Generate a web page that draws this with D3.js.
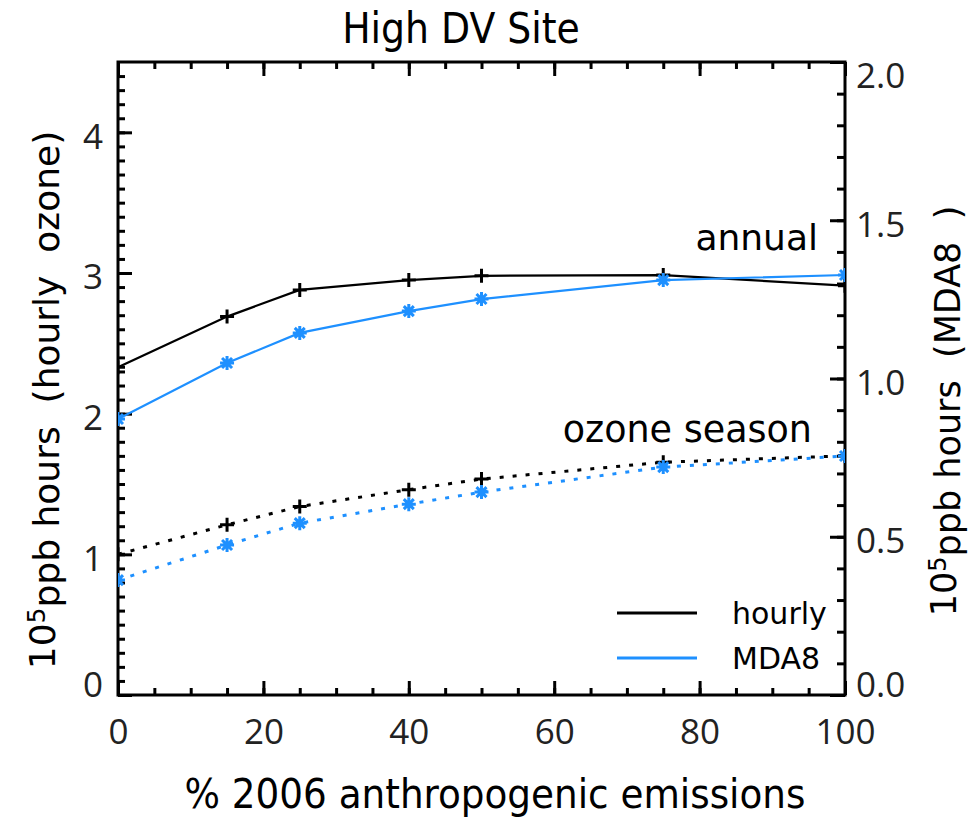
<!DOCTYPE html>
<html>
<head>
<meta charset="utf-8">
<script src="https://cdn.jsdelivr.net/npm/d3@7"></script>
<style>
  body { margin: 0; background: #fff; }
  .axis text { font-family: "Open Sans", sans-serif; font-size: 35px; fill: #222; }
  .axis line { stroke: #000; stroke-width: 3; }
  .axis .domain { display: none; }
  .title, .xlabel { font-family: "Liberation Sans Narrow", "DejaVu Sans Condensed", sans-serif; fill: #000; }
  .ylabel, .note, .legend text { font-family: "DejaVu Sans", Verdana, sans-serif; fill: #000; }
</style>
</head>
<body>
<div id="chart"></div>
<script>
(function (d3) {
    'use strict';

    // Values.
    var emissions = [0, 15, 25, 40, 50, 75, 100];
    var hourlyAnnual = [2.33, 2.69, 2.88, 2.95, 2.98, 2.985, 2.91];
    var mda8Annual = [0.872, 1.049, 1.144, 1.213, 1.251, 1.311, 1.327];
    var hourlySeason = [1.00, 1.21, 1.34, 1.46, 1.535, 1.655, 1.70];
    var mda8Season = [0.363, 0.474, 0.543, 0.603, 0.641, 0.720, 0.755];

    var xTicks = [0, 20, 40, 60, 80, 100];
    var leftTicks = [0, 1, 2, 3, 4];
    var rightTicks = [0, 0.5, 1.0, 1.5, 2.0];
    var legendNames = ['hourly', 'MDA8'];

    var blue = '#1E90FF';

    // Dimensions of the chart.
    var margin = {top: 62, right: 126, bottom: 125, left: 118};
    var width = 971 - margin.left - margin.right;
    var height = 820 - margin.top - margin.bottom;

    var x = d3.scaleLinear().domain([0, 100]).range([0, width]);
    var yLeft = d3.scaleLinear().domain([0, 4.5]).range([height, 0]);
    var yRight = d3.scaleLinear().domain([0, 2.0]).range([height, 0]);

    var svg = d3.select('#chart').append('svg')
        .attr('width', 971)
        .attr('height', 820);

    var vis = svg.append('g')
        .attr('transform', 'translate(' + margin.left + ',' + margin.top + ')');

    svg.append('text')
        .attr('class', 'title')
        .attr('x', 461)
        .attr('y', 43)
        .attr('text-anchor', 'middle')
        .style('font-size', '42px')
        .text('High DV Site');

    // Minor ticks on all four sides.
    vis.append('g').attr('class', 'axis')
        .attr('transform', 'translate(0,' + height + ')')
        .call(d3.axisBottom(x).tickValues(d3.range(0, 101, 5)).tickSize(-7).tickFormat(''));
    vis.append('g').attr('class', 'axis')
        .call(d3.axisTop(x).tickValues(d3.range(0, 101, 5)).tickSize(-7).tickFormat(''));
    vis.append('g').attr('class', 'axis')
        .call(d3.axisLeft(yLeft).tickValues(d3.range(0, 45).map(function(i) { return i / 10; })).tickSize(-7).tickFormat(''));
    vis.append('g').attr('class', 'axis')
        .attr('transform', 'translate(' + width + ',0)')
        .call(d3.axisRight(yRight).tickValues(d3.range(0, 21).map(function(i) { return i / 10; })).tickSize(-8).tickFormat(''));

    // Major ticks with labels.
    vis.append('g').attr('class', 'axis')
        .attr('transform', 'translate(0,' + height + ')')
        .call(d3.axisBottom(x).tickValues(xTicks).tickSize(-14).tickPadding(24).tickFormat(d3.format('d')));
    vis.append('g').attr('class', 'axis')
        .call(d3.axisTop(x).tickValues(xTicks).tickSize(-14).tickFormat(''));

    var gl = vis.append('g').attr('class', 'axis')
        .call(d3.axisLeft(yLeft).tickValues(leftTicks).tickSize(-14).tickPadding(15)
            .tickFormat(d3.format('d')));
    gl.selectAll('text').attr('dy', function(d) { return d === 0 ? '0.05em' : '0.45em'; });

    var gr = vis.append('g').attr('class', 'axis')
        .attr('transform', 'translate(' + width + ',0)')
        .call(d3.axisRight(yRight).tickValues(rightTicks).tickSize(-15).tickPadding(11)
            .tickFormat(d3.format('.1f')));
    gr.selectAll('text').attr('dy', function(d) {
        if (d === 2) { return '0.72em'; }
        if (d === 0) { return '0.05em'; }
        return '0.45em';
    });

    // Frame.
    vis.append('rect')
        .attr('width', width)
        .attr('height', height)
        .attr('fill', 'none')
        .attr('stroke', '#000')
        .attr('stroke-width', 3);

    // Clip the data to the plot area.
    vis.append('clipPath').attr('id', 'plot-clip')
        .append('rect').attr('width', width).attr('height', height);
    var data = vis.append('g').attr('clip-path', 'url(#plot-clip)');

    function pairs(values) {
        return emissions.map(function(e, i) { return {x: e, y: values[i]}; });
    }

    function addSeries(values, scale, colour, dashed, marker) {
        var line = d3.line()
            .x(function(d) { return x(d.x); })
            .y(function(d) { return scale(d.y); });

        data.append('path')
            .datum(pairs(values))
            .attr('d', line)
            .attr('fill', 'none')
            .attr('stroke', colour)
            .attr('stroke-width', dashed ? 3 : 2.2)
            .attr('stroke-dasharray', dashed ? '4,9' : null);

        data.selectAll(null)
            .data(pairs(values))
            .enter().append('path')
            .attr('transform', function(d) { return 'translate(' + x(d.x) + ',' + scale(d.y) + ')'; })
            .attr('d', marker)
            .attr('fill', 'none')
            .attr('stroke', colour)
            .attr('stroke-width', 3);
    }

    var plus = 'M-7,0H7M0,-7V7';
    var star = 'M-7,0H7M0,-7V7M-5,-5L5,5M-5,5L5,-5';

    addSeries(hourlyAnnual, yLeft, '#000', false, plus);
    addSeries(mda8Annual, yRight, blue, false, star);
    addSeries(hourlySeason, yLeft, '#000', true, plus);
    addSeries(mda8Season, yRight, blue, true, star);

    // Annotations.
    vis.append('text').attr('class', 'note')
        .attr('x', 700).attr('y', 188)
        .attr('text-anchor', 'end')
        .style('font-size', '36px')
        .text('annual');
    vis.append('text').attr('class', 'note')
        .attr('x', 694).attr('y', 380)
        .attr('text-anchor', 'end')
        .style('font-size', '36.5px')
        .text('ozone season');

    // Legend.
    var legend = vis.append('g').attr('class', 'legend')
        .attr('transform', 'translate(499,551)');
    legendNames.forEach(function(name, i) {
        legend.append('line')
            .attr('x1', 0).attr('x2', 80)
            .attr('y1', i * 45).attr('y2', i * 45)
            .attr('stroke', i === 0 ? '#000' : blue)
            .attr('stroke-width', 3);
        legend.append('text')
            .attr('x', 115).attr('y', i * 45)
            .attr('dy', '0.35em')
            .style('font-size', '30px')
            .text(name);
    });

    // Axis titles.
    svg.append('text')
        .attr('class', 'xlabel')
        .attr('x', 495)
        .attr('y', 808)
        .attr('text-anchor', 'middle')
        .style('font-size', '41.5px')
        .text('% 2006 anthropogenic emissions');

    var yl = svg.append('text')
        .attr('class', 'ylabel')
        .attr('transform', 'translate(55,400) rotate(-90)')
        .attr('text-anchor', 'middle')
        .style('font-size', '36px')
        .attr('xml:space', 'preserve');
    yl.append('tspan').text('10');
    yl.append('tspan').attr('dy', '-0.4em').style('font-size', '25px').text('5');
    yl.append('tspan').attr('dy', '0.4em').text('ppb hours  (hourly  ozone)');

    var yr = svg.append('text')
        .attr('class', 'ylabel')
        .attr('transform', 'translate(956,411) rotate(-90)')
        .attr('text-anchor', 'middle')
        .style('font-size', '35px')
        .attr('xml:space', 'preserve');
    yr.append('tspan').text('10');
    yr.append('tspan').attr('dy', '-0.4em').style('font-size', '24px').text('5');
    yr.append('tspan').attr('dy', '0.4em').text('ppb hours  (MDA8  )');
})(d3);
</script>
</body>
</html>
